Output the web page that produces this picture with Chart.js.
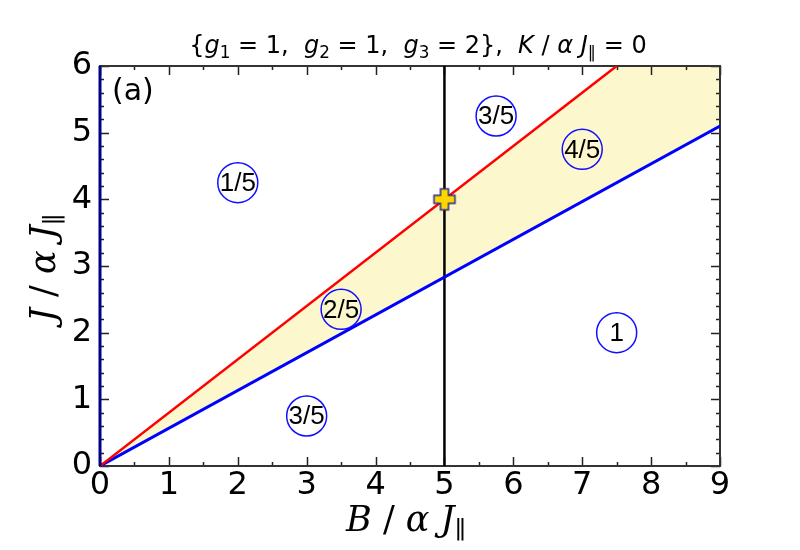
<!DOCTYPE html>
<html>
<head>
<meta charset="utf-8">
<script src="https://cdn.jsdelivr.net/npm/chart.js@4.4.0/dist/chart.umd.min.js"></script>
<style>
  html, body { margin: 0; padding: 0; background: #fff; }
  canvas { display: block; }
</style>
</head>
<body>
<canvas id="chartCanvas" width="800" height="550"></canvas>
<script>
// phase boundaries
const redX = [0, 7.5]
const redY = [0, 6]
const blueX = [0, 9]
const blueY = [0, 5.1]
const wallX = [0, 0]
const wallY = [0, 6]
const fieldX = [5, 5]
const fieldY = [0, 6]
const cornerX = [9]
const cornerY = [6]
// marked point
const markX = [5]
const markY = [4]
// plateau labels
const regionLabels = ['1/5', '2/5', '3/5', '3/5', '4/5', '1']
const regionX = [2, 3.5, 3, 5.75, 7, 7.5]
const regionY = [4.25, 2.35, 0.75, 5.25, 4.75, 2]

const pts = (xs, ys) => xs.map((x, i) => ({x: x, y: ys[i]}))

// shaded band: red line up to the top, then down along the blue line
const bandPts = pts(redX, redY)
    .concat(pts(cornerX, cornerY))
    .concat(pts(blueX, blueY).reverse())

const plusMark = document.createElement('canvas')
plusMark.width = 26
plusMark.height = 26
const pc = plusMark.getContext('2d')
const a = 4, b = 10.5, c = 13
pc.beginPath()
pc.moveTo(c - a, c - b)
pc.lineTo(c + a, c - b)
pc.lineTo(c + a, c - a)
pc.lineTo(c + b, c - a)
pc.lineTo(c + b, c + a)
pc.lineTo(c + a, c + a)
pc.lineTo(c + a, c + b)
pc.lineTo(c - a, c + b)
pc.lineTo(c - a, c + a)
pc.lineTo(c - b, c + a)
pc.lineTo(c - b, c - a)
pc.lineTo(c - a, c - a)
pc.closePath()
pc.fillStyle = '#ffd700'
pc.fill()
pc.strokeStyle = '#2a2a8a'
pc.lineWidth = 1.5
pc.stroke()

// text made of runs: {t, it (italic), sub}
const drawRuns = (ctx, runs, x, y, size, family) => {
    const fontOf = r => {
        const s = r.sub ? size * 0.7 : size
        return (r.it ? 'italic ' : '') + s + 'px ' + family
    }
    let total = 0
    runs.forEach(r => {
        ctx.font = fontOf(r)
        total += ctx.measureText(r.t).width
    })
    let cx = x - total / 2
    ctx.textAlign = 'left'
    ctx.textBaseline = 'alphabetic'
    runs.forEach(r => {
        ctx.font = fontOf(r)
        ctx.fillText(r.t, cx, r.sub ? y + size * 0.2 : y)
        cx += ctx.measureText(r.t).width
    })
}

const titleRuns = [
    {t: '{'}, {t: 'g', it: true}, {t: '1', sub: true}, {t: ' = 1,  '},
    {t: 'g', it: true}, {t: '2', sub: true}, {t: ' = 1,  '},
    {t: 'g', it: true}, {t: '3', sub: true}, {t: ' = 2},  '},
    {t: 'K', it: true}, {t: ' / '}, {t: 'α', it: true}, {t: ' '},
    {t: 'J', it: true}, {t: '∥', sub: true}, {t: ' = 0'}
]
const xLabelRuns = [
    {t: 'B', it: true}, {t: ' / '}, {t: 'α', it: true}, {t: ' '},
    {t: 'J', it: true}, {t: '∥', sub: true}
]
const yLabelRuns = [
    {t: 'J', it: true}, {t: ' / '}, {t: 'α', it: true}, {t: ' '},
    {t: 'J', it: true}, {t: '∥', sub: true}
]

const frameAndTicks = (chart) => {
    const ctx = chart.ctx
    const area = chart.chartArea
    const xs = chart.scales.x
    const ys = chart.scales.y
    ctx.save()
    ctx.strokeStyle = '#222'
    ctx.lineWidth = 1.5
    for (let v = 0; v <= 9.001; v += 0.5) {
        const px = Math.round(xs.getPixelForValue(v)) + 0.5
        const len = Math.abs(v - Math.round(v)) < 0.01 ? 9 : 4
        ctx.beginPath()
        ctx.moveTo(px, area.bottom)
        ctx.lineTo(px, area.bottom - len)
        ctx.moveTo(px, area.top)
        ctx.lineTo(px, area.top + len)
        ctx.stroke()
    }
    for (let v = 0; v <= 6.001; v += 0.2) {
        const py = Math.round(ys.getPixelForValue(v)) + 0.5
        const len = Math.abs(v - Math.round(v)) < 0.01 ? 9 : 4
        ctx.beginPath()
        ctx.moveTo(area.left, py)
        ctx.lineTo(area.left + len, py)
        ctx.moveTo(area.right, py)
        ctx.lineTo(area.right - len, py)
        ctx.stroke()
    }
    ctx.strokeStyle = '#333'
    ctx.lineWidth = 2
    ctx.strokeRect(area.left, area.top, area.right - area.left, area.bottom - area.top)
    ctx.restore()
}

const decorPlugin = {
    id: 'decor',
    afterDatasetDraw: (chart, args) => {
        if (args.index === 0) frameAndTicks(chart)
    },
    afterDatasetsDraw: (chart) => {
        const ctx = chart.ctx
        const meta = chart.getDatasetMeta(5)
        ctx.save()
        ctx.fillStyle = '#000'
        ctx.font = '26px "Liberation Sans", Arial, sans-serif'
        ctx.textAlign = 'center'
        ctx.textBaseline = 'middle'
        meta.data.forEach((p, i) => {
            ctx.fillText(regionLabels[i], p.x, p.y + 1)
        })
        ctx.restore()
    },
    afterDraw: (chart) => {
        const ctx = chart.ctx
        const area = chart.chartArea
        ctx.save()
        ctx.fillStyle = '#000'
        ctx.font = '30px "DejaVu Sans", sans-serif'
        ctx.textAlign = 'left'
        ctx.textBaseline = 'alphabetic'
        ctx.fillText('(a)', area.left + 12, area.top + 34)
        const mid = (area.left + area.right) / 2
        drawRuns(ctx, titleRuns, mid + 8, 53, 24, '"DejaVu Sans", sans-serif')
        drawRuns(ctx, xLabelRuns, mid - 4, 531, 35, '"DejaVu Serif", serif')
        ctx.translate(55, (area.top + area.bottom) / 2 + 2)
        ctx.rotate(-Math.PI / 2)
        drawRuns(ctx, yLabelRuns, 0, 0, 35, '"DejaVu Serif", serif')
        ctx.restore()
    }
}

const tickFont = {family: '"DejaVu Sans", sans-serif', size: 32}

new Chart(document.getElementById('chartCanvas'), {
    type: 'scatter',
    data: {
        datasets: [
            {
                data: bandPts,
                showLine: true,
                fill: 'shape',
                backgroundColor: '#fcf7cc',
                borderWidth: 0,
                pointRadius: 0,
                order: 10
            },
            {
                data: pts(fieldX, fieldY),
                showLine: true,
                borderColor: '#000',
                borderWidth: 2.5,
                pointRadius: 0,
                order: 5
            },
            {
                data: pts(redX, redY),
                showLine: true,
                borderColor: '#ff0000',
                borderWidth: 2.5,
                pointRadius: 0,
                order: 4
            },
            {
                data: pts(blueX, blueY),
                showLine: true,
                borderColor: '#0000ff',
                borderWidth: 3,
                pointRadius: 0,
                order: 4
            },
            {
                data: pts(wallX, wallY),
                showLine: true,
                borderColor: '#00008b',
                borderWidth: 3,
                pointRadius: 0,
                clip: false,
                order: 3
            },
            {
                data: pts(regionX, regionY),
                showLine: false,
                pointStyle: 'circle',
                pointRadius: 20,
                pointBorderWidth: 1.5,
                pointBorderColor: '#1010ff',
                pointBackgroundColor: 'rgba(0,0,0,0)',
                order: 2
            },
            {
                data: pts(markX, markY),
                showLine: false,
                pointStyle: plusMark,
                order: 1
            }
        ]
    },
    options: {
        responsive: false,
        devicePixelRatio: 1,
        animation: false,
        events: [],
        layout: {padding: {left: 0, right: 80, top: 66, bottom: 0}},
        plugins: {
            legend: {display: false},
            tooltip: {enabled: false},
            title: {display: false}
        },
        scales: {
            x: {
                type: 'linear',
                min: 0,
                max: 9,
                ticks: {stepSize: 1, font: tickFont, color: '#000', padding: 0, maxRotation: 0},
                grid: {display: false, drawTicks: false},
                border: {display: false},
                afterFit: s => { s.height = 84 }
            },
            y: {
                type: 'linear',
                min: 0,
                max: 6,
                ticks: {stepSize: 1, font: tickFont, color: '#000', padding: 8},
                grid: {display: false, drawTicks: false},
                border: {display: false},
                afterFit: s => { s.width = 100 }
            }
        }
    },
    plugins: [decorPlugin]
})
</script>
</body>
</html>
